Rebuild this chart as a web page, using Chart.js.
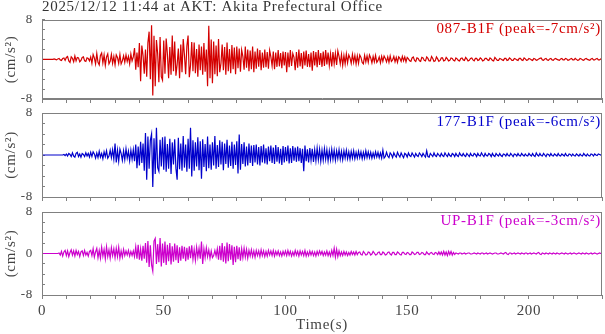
<!DOCTYPE html>
<html>
<head>
<meta charset="utf-8">
<script src="https://cdn.jsdelivr.net/npm/chart.js@4.4.1/dist/chart.umd.min.js"></script>
<style>
  html, body { margin: 0; padding: 0; background: #fff; }
  #wrap { position: relative; width: 605px; height: 334px; }
  #wrap canvas { position: absolute; left: 0; top: 0; }
</style>
</head>
<body>
<div id="wrap">
  <canvas id="ch1" width="605" height="334"></canvas>
  <canvas id="ch2" width="605" height="334"></canvas>
  <canvas id="ch3" width="605" height="334"></canvas>
</div>
<script>
const titleText = '2025/12/12 11:44 at AKT: Akita Prefectural Office';
const channelNames = ['087-B1F', '177-B1F', 'UP-B1F'];
const peakValues = [-7, -6, -3];
const sampleStep = 0.5; // s between samples
const xTickLabels = [0, 50, 100, 150, 200];
const yTickLabels = [-8, 0, 8];

// acceleration (cm/s2), one value every 0.5 s from 0 to 230 s
const acc087 = [
  0,0,0,0,0,0,0,0,0,0, 0.1,0,-0.1,0.1,0.2,-0.1,-0.2,0.2,0.3,-0.2,
  0.4,0.6,-0.3,-0.6,0.5,0.2,-0.5,0.7,-0.3,0.4, 0.3,-0.5,-0.2,0.4,0.5,-0.3,-0.4,0.3,0.2,-0.3,
  0.5,-0.8,1.0,0.3,-0.9,1.2,-0.6,-1.1,0.8,1.3, -0.7,0.9,-1.2,0.5,1.1,-0.9,-0.4,1.0,-0.8,0.6,
  -1.1,0.9,0.4,-0.8,1.0,-0.9,-0.3,0.7,-0.6,0.9, -0.4,0.6,-0.9,1.1,-0.3,0.5,2.3,-2.1,1.4,-1.6,
  3.3,-4.4,2.8,0.8,-2.9,2.0,-3.5,3.4,5.6,-4.0, 6.9,-7.3,4.8,-5.4,3.9,1.2,-4.6,4.5,-3.5,-4.2,
  3.8,-2.9,4.2,1.1,-3.8,2.5,-3.1,4.8,-2.4,3.6, -3.3,-1.0,2.2,-3.8,3.0,-2.6,4.1,0.9,-3.0,2.7,
  4.8,-3.6,-1.2,3.5,-2.4,3.4,-2.8,2.1,-3.5,3.0, -2.2,2.6,-3.1,3.3,-2.5,2.0,-5.4,6.8,-3.8,4.0,
  -4.8,3.6,-3.0,2.8,-3.4,4.1,-2.6,-0.8,3.0,-2.2, 2.5,-3.1,3.4,-2.4,2.1,-2.8,2.9,-2.0,2.4,-3.0,
  2.6,-1.8,2.2,-2.5,1.9,0.6,-2.1,2.6,-1.7,2.0, -2.4,1.8,-2.0,2.6,-2.6,1.6,-1.9,2.2,-1.5,1.9,
  -2.2,1.4,-1.7,2.0,-1.6,1.5,-1.9,1.8,0.5,-1.3, 1.6,-2.0,1.4,-1.5,1.9,-1.4,1.3,-1.8,1.6,-1.2,
  1.5,-2.6,1.4,-1.6,1.9,-1.3,1.2,0.4,-2.2,1.5, -1.7,2.0,-1.4,1.3,-1.9,1.6,-1.2,1.8,-1.5,1.1,
  -1.6,1.4,-2.3,1.7,-1.2,1.5,-1.6,1.9,-1.1,1.3, -1.5,1.6,-1.3,1.9,-1.0,1.4,-1.2,1.1,-1.4,1.5,
  -0.9,1.2,-1.1,1.7,0.6,-0.9,1.0,-1.2,0.8,-0.9, 1.1,-0.7,0.9,0.3,-0.8,1.0,-0.6,0.8,-0.9,0.7,
  -0.8,0.9,0.4,-0.6,-0.9,0.8,-0.5,0.7,-0.6,0.9, 0.3,-0.7,0.6,-0.5,0.8,-0.6,-0.2,0.5,-0.7,0.6,
  -0.4,0.7,0.2,-0.5,0.5,-0.6,0.7,-0.4,-0.1,0.6, -0.5,0.4,-0.6,0.5,0.2,-0.4,0.6,-0.3,0.5,-0.5,
  0.4,0.1,-0.3,-0.4,0.3,0.5,-0.2,-0.4,0.3,0.2, -0.3,-0.4,0.4,0.3,-0.2,-0.3,0.5,0.2,-0.3,-0.3,
  0.6,0.2,-0.4,-0.3,0.5,0.1,-0.4,-0.2,0.3,0.3, -0.3,-0.2,0.4,0.1,-0.3,-0.2,0.3,0.2,-0.2,-0.3,
  0.3,0.1,-0.2,-0.3,0.2,0.3,-0.1,-0.2,0.4,0.1, -0.3,-0.2,0.2,0.3,-0.1,-0.3,0.2,0.2,-0.2,-0.1,
  0.3,0.1,-0.3,-0.2,0.2,0.2,-0.1,-0.2,0.3,0.1, -0.2,-0.3,0.4,0.1,-0.2,-0.2,0.2,0.1,-0.1,-0.2,
  0.2,0.2,-0.2,-0.1,0.3,0.1,-0.2,-0.2,0.2,0.1, -0.1,-0.2,0.2,0.2,-0.1,-0.2,0.3,0.1,-0.2,-0.1,
  0.2,0.1,-0.1,-0.2,0.2,0.1,-0.2,-0.1,0.1,0.2, 0.3,-0.1,-0.2,0.1,0.2,-0.1,-0.2,0.1,0.2,-0.1,
  -0.2,0.1,0.2,0.0,-0.1,-0.2,0.1,0.2,-0.1,-0.1, 0.2,0.1,-0.2,-0.1,0.1,0.2,-0.1,-0.1,0.2,0.0,
  -0.2,-0.1,0.2,0.1,-0.1,-0.2,0.1,0.2,0.0,-0.1, -0.2,0.1,0.2,-0.1,-0.1,0.1,0.2,-0.1,-0.1,0.1,
  0.0
];

const acc177 = [
  0,0,0,0,0,0,0,0,0,0, 0,0,0,0,0,0,0,0,0.1,-0.1,
  0.2,-0.2,0.3,0.1,-0.3,0.4,-0.2,-0.4,0.3,0.5, -0.3,0.2,-0.4,0.3,0.1,-0.3,0.4,-0.2,0.3,-0.4,
  0.5,-0.3,0.6,0.2,-0.6,0.4,-0.5,0.7,-0.4,0.3, -0.7,0.6,-0.3,0.8,-0.6,-0.2,0.9,-0.5,1.0,-0.8,
  2.2,-1.4,0.9,-1.2,1.1,0.3,-1.0,0.8,-0.9,1.2, -0.6,0.7,-1.1,0.9,-0.8,1.0,-1.2,2.0,-2.5,1.6,
  -2.0,2.5,-1.5,2.2,-3.0,4.2,-4.7,3.5,-2.6,2.8, 4.0,-6.1,3.2,-3.6,5.2,-2.4,-3.1,2.9,-2.2,3.4,
  -2.8,3.5,-3.2,2.1,-2.6,3.1,-3.6,2.4,-1.8,3.0, -2.5,-4.7,3.3,-2.7,2.2,-3.0,3.6,-2.4,2.0,-3.2,
  3.1,-2.6,5.2,-4.1,2.8,-3.0,2.4,-2.2,3.4,-2.9, 2.6,-4.5,3.0,-2.3,2.1,-3.1,3.5,-2.5,2.0,-2.8,
  2.4,-2.0,3.6,-2.6,1.9,-2.3,2.8,-1.8,2.5,-2.9, 2.2,-1.7,2.9,-2.4,1.8,-2.1,2.5,-2.6,2.0,-1.9,
  2.6,-3.5,3.9,-2.8,2.1,-1.7,2.4,-2.2,1.6,-2.0, 2.2,-1.5,1.8,-2.1,1.9,-1.4,2.0,-1.8,1.5,-2.0,
  1.7,-1.4,2.0,-1.6,1.3,-1.8,1.6,-1.2,1.8,-1.5, 1.4,-1.7,1.9,-1.3,1.5,-1.6,1.2,-1.9,1.7,-1.4,
  1.5,-1.2,1.8,-1.6,1.3,-1.5,1.7,-1.1,1.4,-1.3, 1.6,-1.2,1.3,-1.5,1.2,-3.1,1.8,-1.2,1.1,-1.4,
  1.3,-1.0,1.2,-1.3,1.0,-1.1,1.3,-0.9,1.1,-1.2, 0.9,-1.0,1.2,-0.8,1.0,-1.1,0.8,-0.9,1.1,-0.8,
  0.9,-1.0,0.8,-0.7,1.0,-0.8,0.7,-0.9,0.8,-0.6, 0.9,-0.7,0.6,-0.8,0.7,-0.6,0.8,-0.7,0.5,-0.6,
  0.7,-0.5,0.6,-0.7,0.5,-0.6,0.8,-0.5,0.6,-0.5, 0.5,-0.6,0.4,-0.5,0.6,-0.4,0.5,-0.5,0.4,-0.6,
  0.9,-0.6,-0.3,0.5,-0.2,-0.5,0.4,0.1,-0.5,0.4, -0.1,-0.4,0.5,0.0,-0.4,0.4,-0.1,-0.5,0.3,0.1,
  -0.4,0.4,-0.1,-0.3,0.4,0.0,-0.4,0.3,-0.1,-0.3, 0.4,0.1,-0.3,0.3,-0.1,-0.4,0.8,-0.3,-0.4,0.3,
  0.0,-0.3,0.4,-0.1,-0.3,0.3,0.0,-0.3,0.3,-0.1, -0.3,0.4,0.0,-0.3,0.3,-0.1,-0.3,0.3,0.1,-0.3,
  0.3,-0.1,-0.3,0.4,0.0,-0.2,0.3,-0.1,-0.3,0.3, 0.0,-0.3,0.3,-0.1,-0.2,0.3,0.1,-0.3,0.3,-0.1,
  -0.2,0.4,0.0,-0.3,0.3,-0.1,-0.2,0.3,0.1,-0.3, 0.3,-0.1,-0.3,0.3,0.0,-0.2,0.3,-0.1,-0.3,0.2,
  0.1,-0.2,0.3,-0.1,-0.2,0.3,0.0,-0.3,0.2,0.1, -0.2,0.3,-0.1,-0.2,0.3,0.0,-0.2,0.2,-0.1,-0.2,
  0.3,0.0,-0.2,0.3,-0.1,-0.3,0.4,0.0,-0.2,0.3, -0.1,-0.2,0.3,0.0,-0.3,0.2,0.1,-0.2,0.3,-0.1,
  -0.2,0.2,0.0,-0.2,0.3,-0.1,-0.2,0.2,0.0,-0.2, 0.3,-0.1,-0.2,0.2,0.1,-0.2,0.2,-0.1,-0.2,0.2,
  0.0,-0.2,0.2,-0.1,-0.2,0.3,0.0,-0.2,0.2,-0.1, -0.2,0.2,0.1,-0.2,0.2,0.0,-0.1,0.2,0.1,0.0,
  0.1
];

const accUP = [
  0,0,0,0,0,0,0,0,0,0, 0,0,0,0,0.1,-0.3,0.4,-0.5,0.3,0.6,
  -0.4,0.5,-0.6,0.2,0.7,-0.3,0.5,-0.5,0.6,-0.2, 0.4,-0.6,0.3,0.5,-0.4,0.6,-0.3,0.2,-0.5,0.4,
  0.6,-0.4,0.9,-0.7,0.3,1.0,-0.8,0.6,-0.9,1.2, -0.5,0.8,-1.0,1.3,-0.6,0.7,-0.9,1.1,-0.4,0.9,
  -0.8,1.0,-0.6,1.2,-0.9,0.5,-0.7,0.8,-0.4,0.5, -0.3,0.6,-0.5,0.4,-0.4,0.5,-0.6,1.3,-1.0,1.7,
  -1.2,0.9,-1.4,1.5,-1.0,2.0,-1.8,2.4,-2.6,1.6, -2.2,-3.4,2.4,2.9,-2.0,1.8,-1.7,3.0,-2.5,1.9,
  -1.8,2.3,-2.2,1.7,-1.5,2.0,-2.1,1.4,-1.6,1.9, -1.3,1.6,-1.8,1.2,-1.4,1.5,-1.0,1.3,-1.5,1.1,
  -1.2,1.4,-0.9,1.6,-1.1,0.8,-1.3,1.2,-0.7,1.0, -1.0,2.3,-2.0,0.9,-0.8,1.1,-0.6,0.7,-0.9,0.5,
  -0.8,-0.4,0.6,-0.5,0.9,-1.2,1.5,-1.3,2.0,-1.6, 1.4,-1.9,2.1,-1.5,1.8,-1.2,1.6,-2.2,1.3,-1.7,
  1.5,-1.1,1.2,-1.4,0.9,-0.8,1.0,-0.7,0.8,-0.9, 0.6,-0.5,0.7,-0.6,0.5,-0.7,0.6,-0.4,0.5,-0.6,
  0.7,-0.4,0.5,-0.6,0.4,-0.5,0.6,-0.3,0.5,-0.4, 0.6,-0.5,0.4,-0.3,0.5,-0.4,0.3,-0.5,0.4,-0.3,
  0.5,-0.4,0.6,-0.3,0.4,-0.5,0.3,-0.4,0.6,-0.3, 0.4,-0.5,0.5,-0.3,0.4,-0.4,0.6,-0.5,0.3,-0.4,
  0.5,-0.3,0.4,-0.4,0.3,-0.5,0.4,-0.3,0.5,-0.2, 0.4,-0.4,0.3,-0.3,0.5,-0.4,0.3,-0.5,0.6,-0.4,
  1.0,-0.7,0.8,-0.6,0.5,-0.4,0.3,-0.4,0.4,-0.3, 0.3,-0.4,0.2,-0.3,0.4,-0.2,0.3,-0.3,0.4,-0.2,
  0.2,0.3,-0.2,-0.3,0.4,0.1,-0.3,-0.2,0.3,0.2, -0.3,-0.1,0.4,0.1,-0.3,-0.2,0.2,0.3,-0.2,-0.2,
  0.3,0.1,-0.3,-0.2,0.2,0.3,-0.1,-0.3,0.2,0.2, -0.2,-0.2,0.3,0.1,-0.2,-0.3,0.2,0.2,-0.1,-0.2,
  0.2,0.1,-0.2,-0.2,0.3,0.1,-0.2,-0.1,0.2,0.2, -0.2,-0.1,0.2,0.1,-0.2,-0.2,0.3,0.0,-0.2,0.1,
  0.2,-0.1,-0.2,0.2,0.1,-0.2,0.3,-0.2,0.3,-0.3, 0.4,-0.3,0.3,-0.4,0.4,-0.2,0.4,-0.3,0.2,-0.2,
  0.1,0.0,-0.1,0.1,0.1,-0.1,0.0,0.1,-0.1,0.0, 0.1,0.1,-0.1,-0.1,0.0,0.1,0.0,-0.1,0.1,0.0,
  -0.1,0.1,0.1,-0.1,0.0,0.1,-0.1,0.0,0.1,0.0, -0.1,0.0,0.1,0.1,-0.1,-0.1,0.0,0.1,0.0,-0.1,
  0.1,0.2,-0.1,-0.2,0.1,0.1,-0.1,0.0,0.1,-0.1, 0.0,0.1,0.0,-0.1,0.1,0.0,-0.1,0.1,0.1,-0.1,
  0.0,0.1,-0.1,0.0,0.1,0.0,-0.1,0.1,0.2,-0.1, -0.2,0.1,0.0,-0.1,0.1,0.0,-0.1,0.1,0.0,-0.1,
  0.1,0.0,-0.1,0.1,0.0,-0.1,0.0,0.1,0.0,-0.1, 0.1,0.0,-0.1,0.0,0.1,-0.1,0.0,0.1,0.0,-0.1,
  0.0,0.1,0.0,-0.1,0.1,0.0,-0.1,0.1,0.0,-0.1, 0.0,0.1,-0.1,0.0,0.1,0.0,-0.1,0.0,0.1,0.0,
  0.0
];

const FONT = '"Liberation Serif", "Times New Roman", serif';
const axisGrey = '#808080';
const textGrey = '#444';

// draws the box around each panel plus the channel label / page title
const panelText = {
  id: 'panelText',
  beforeDraw(chart) {
    chart.ctx.letterSpacing = '0.7px';
  },
  afterDatasetsDraw(chart, args, opts) {
    const { ctx, chartArea: a } = chart;
    ctx.save();
    ctx.strokeStyle = axisGrey;
    ctx.lineWidth = 1;
    ctx.strokeRect(Math.round(a.left) + 0.5, Math.round(a.top) + 0.5,
                   Math.round(a.right - a.left) - 1, Math.round(a.bottom - a.top));
    ctx.font = '15px ' + FONT;
    ctx.textBaseline = 'alphabetic';
    ctx.textAlign = 'right';
    ctx.fillStyle = opts.color;
    ctx.fillText(opts.label, 601, a.top + 13);
    if (opts.title) {
      ctx.textAlign = 'left';
      ctx.fillStyle = '#333';
      ctx.fillText(opts.title, 42, 11);
    }
    ctx.restore();
  }
};

function makePanel(canvasId, values, color, idx, top, bottom) {
  const isLast = idx === 2;
  const ctx = document.getElementById(canvasId).getContext('2d');
  return new Chart(ctx, {
    type: 'line',
    data: {
      datasets: [{
        data: values.map((v, i) => ({ x: i * sampleStep, y: v })),
        borderColor: color,
        borderWidth: 1.2,
        pointRadius: 0,
        tension: 0,
        fill: false
      }]
    },
    options: {
      responsive: false,
      animation: false,
      devicePixelRatio: 1,
      events: [],
      layout: { padding: { top: top, right: 1, left: 0, bottom: 0 } },
      plugins: {
        legend: { display: false },
        tooltip: { enabled: false },
        panelText: {
          color: color,
          label: channelNames[idx] + ' (peak=' + peakValues[idx] + 'cm/s\u00B2)',
          title: idx === 0 ? titleText : null
        }
      },
      scales: {
        x: {
          type: 'linear',
          min: 0,
          max: 230,
          afterFit: s => { s.height = 334 - bottom; },
          ticks: {
            stepSize: 10,
            autoSkip: false,
            maxRotation: 0,
            padding: 3,
            color: textGrey,
            font: { family: FONT, size: 15 },
            callback: v => (isLast && xTickLabels.includes(v)) ? String(v) : ''
          },
          grid: { drawOnChartArea: false, tickLength: 4, tickColor: axisGrey },
          border: { color: axisGrey },
          title: {
            display: isLast,
            text: 'Time(s)',
            color: textGrey,
            font: { family: FONT, size: 15 },
            padding: 0
          }
        },
        y: {
          min: -8,
          max: 8,
          afterFit: s => { s.width = 42; },
          ticks: {
            stepSize: 2,
            autoSkip: false,
            padding: 12,
            color: textGrey,
            font: { family: FONT, size: 13 },
            callback: v => yTickLabels.includes(v) ? String(v) : ''
          },
          grid: { drawOnChartArea: false, tickLength: -3, tickColor: axisGrey },
          border: { color: axisGrey },
          title: {
            display: true,
            text: '(cm/s\u00B2)',
            color: textGrey,
            font: { family: FONT, size: 15 },
            padding: { top: 2, bottom: 0 }
          }
        }
      }
    },
    plugins: [panelText]
  });
}

makePanel('ch1', acc087, '#d40000', 0, 16, 99);
makePanel('ch2', acc177, '#0000cc', 1, 113, 197);
makePanel('ch3', accUP, '#cc00cc', 2, 212, 295);
</script>
</body>
</html>
